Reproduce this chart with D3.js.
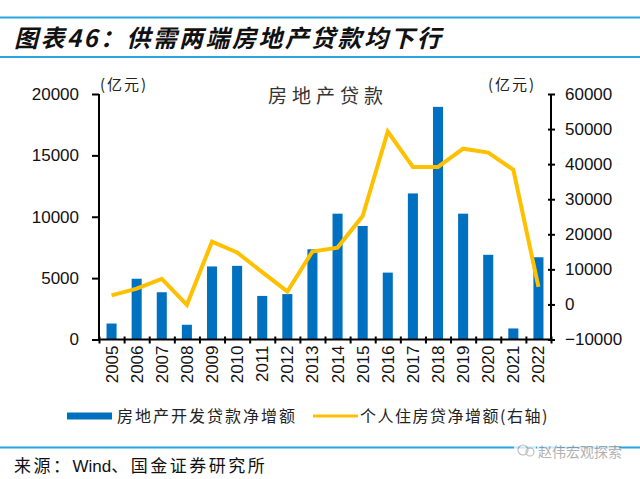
<!DOCTYPE html>
<html>
<head>
<meta charset="utf-8">
<script src="https://cdn.jsdelivr.net/npm/d3@7"></script>
<style>
html,body{margin:0;padding:0;background:#fff;}
svg{display:block;}
</style>
</head>
<body>
<script>
const years = ["2005","2006","2007","2008","2009","2010","2011","2012","2013","2014","2015","2016","2017","2018","2019","2020","2021","2022"];
const devLoans = [1300, 4950, 3850, 1200, 5950, 6000, 3550, 3700, 7350, 10250, 9250, 5450, 11900, 18950, 10250, 6900, 900, 6700];
const mortgage = [2600, 4500, 7300, -100, 17900, 14800, 9200, 3700, 15100, 16200, 25200, 49300, 39200, 39200, 44400, 43300, 38400, 5000];
const leftTicks = [0, 5000, 10000, 15000, 20000];
const rightTicks = [-10000, 0, 10000, 20000, 30000, 40000, 50000, 60000];
const seriesNames = ["房地产开发贷款净增额", "个人住房贷净增额(右轴)"];
const titleText = "图表46：供需两端房地产贷款均下行";
const chartLabel = "房地产贷款";
const unitText = "(亿元)";
const sourceParts = ["来源：", "Wind", "、国金证券研究所"];
const watermark = "赵伟宏观探索";

const W = 640, H = 479;
const cjk = "'Noto Sans CJK SC', 'Noto Sans', sans-serif";
const num = "'Liberation Sans', Arial, sans-serif";
const blue = "#0070C0", gold = "#FFC000", rule = "#29A5DF";

const svg = d3.select("body").append("svg").attr("width", W).attr("height", H);

// title rules
svg.append("line").attr("x1",0).attr("x2",W).attr("y1",17.5).attr("y2",17.5).attr("stroke",rule).attr("stroke-width",2);
svg.append("line").attr("x1",0).attr("x2",W).attr("y1",57).attr("y2",57).attr("stroke",rule).attr("stroke-width",2);
svg.append("text").attr("x",14).attr("y",47).attr("font-family",cjk).attr("font-size",24)
  .attr("font-style","italic").attr("font-weight","bold").attr("letter-spacing",2.4).attr("fill","#111").text(titleText);

const x0 = 99, x1 = 551, yTop = 94, yBot = 339.5;
const x = d3.scaleBand().domain(years).range([x0, x1]).paddingInner(0.6).paddingOuter(0.3);
const xEdge = d3.scaleLinear().domain([0, years.length]).range([x0, x1]);
const yL = d3.scaleLinear().domain([0, 20000]).range([yBot, yTop]);
const yR = d3.scaleLinear().domain([-10000, 60000]).range([yBot, yTop]);

// bars
svg.append("g").selectAll("rect").data(years).join("rect")
  .attr("x", d => x(d)).attr("width", x.bandwidth())
  .attr("y", (d,i) => yL(devLoans[i])).attr("height", (d,i) => yL(0) - yL(devLoans[i]))
  .attr("fill", blue);

// line
const line = d3.line().x((d,i) => x(years[i]) + x.bandwidth()/2).y(d => yR(d));
svg.append("path").datum(mortgage).attr("d", line).attr("fill","none")
  .attr("stroke", gold).attr("stroke-width", 4).attr("stroke-linejoin","miter");

// left axis
const gL = svg.append("g").attr("transform", `translate(${x0},0)`)
  .call(d3.axisLeft(yL).tickValues(leftTicks).tickSize(7).tickPadding(13).tickFormat(d3.format("d")));
gL.select(".domain").attr("stroke","#000").attr("stroke-width",2).attr("d", `M0,${yTop}V${yBot}`);
gL.selectAll(".tick line").attr("stroke","#000").attr("stroke-width",2);
gL.selectAll(".tick text").attr("font-family",num).attr("font-size",17).attr("fill","#111");

// right axis
const gR = svg.append("g").attr("transform", `translate(${x1},0)`)
  .call(d3.axisRight(yR).tickValues(rightTicks).tickSize(4).tickPadding(10).tickFormat(d3.format("d")));
gR.select(".domain").attr("stroke","#000").attr("stroke-width",2).attr("d", `M0,${yTop}V${yBot}`);
gR.selectAll(".tick line").attr("stroke","#000").attr("stroke-width",2).attr("x1",-3);
gR.selectAll(".tick text").attr("font-family",num).attr("font-size",17).attr("fill","#111");

// bottom axis: ticks at category boundaries
const gB = svg.append("g").attr("transform", `translate(0,${yBot})`)
  .call(d3.axisBottom(xEdge).tickValues(d3.range(0, years.length + 1)).tickSize(4).tickFormat(""));
gB.select(".domain").attr("stroke","#000").attr("stroke-width",2).attr("d", `M${x0},0H${x1}`);
gB.selectAll(".tick line").attr("stroke","#000").attr("stroke-width",2).attr("y1",-3);
const gLab = svg.append("g").attr("transform", `translate(0,${yBot})`)
  .call(d3.axisBottom(x).tickSize(0).tickPadding(0));
gLab.select(".domain").remove();
gLab.selectAll(".tick text").attr("font-family",num).attr("font-size",17).attr("fill","#111")
  .attr("transform","rotate(-90)").attr("text-anchor","end").attr("dy","0.35em").attr("x",-6).attr("y",0);

// units & chart label
svg.append("text").attr("x",100).attr("y",90).attr("font-family",cjk).attr("font-size",15).attr("letter-spacing",2).attr("fill","#222").text(unitText);
svg.append("text").attr("x",488).attr("y",90).attr("font-family",cjk).attr("font-size",15).attr("letter-spacing",2).attr("fill","#222").text(unitText);
svg.append("text").attr("x",328).attr("y",103).attr("text-anchor","middle").attr("font-family",cjk)
  .attr("font-size",19).attr("letter-spacing",5).attr("fill","#333").text(chartLabel);

// legend
const ly = 416;
svg.append("rect").attr("x",67).attr("y",ly-3.5).attr("width",45).attr("height",7).attr("fill",blue);
svg.append("text").attr("x",117).attr("y",ly+6).attr("font-family",cjk).attr("font-size",16).attr("letter-spacing",2).attr("fill","#222").text(seriesNames[0]);
svg.append("line").attr("x1",313).attr("x2",358).attr("y1",ly).attr("y2",ly).attr("stroke",gold).attr("stroke-width",3);
svg.append("text").attr("x",360).attr("y",ly+6).attr("font-family",cjk).attr("font-size",16).attr("letter-spacing",1.5).attr("fill","#222").text(seriesNames[1]);

// bottom rule & source
svg.append("line").attr("x1",0).attr("x2",W).attr("y1",447.5).attr("y2",447.5).attr("stroke",rule).attr("stroke-width",2);
const src = svg.append("text").attr("x",14).attr("y",472).attr("font-size",17).attr("fill","#111");
src.append("tspan").attr("font-family",cjk).attr("letter-spacing",2.5).text(sourceParts[0]);
src.append("tspan").attr("font-family",num).attr("letter-spacing",0).text(sourceParts[1]);
src.append("tspan").attr("font-family",cjk).attr("letter-spacing",2.5).text(sourceParts[2]);
// watermark
const wm = svg.append("g").attr("opacity",0.75);
wm.append("rect").attr("x",514).attr("y",441).attr("width",22).attr("height",16).attr("fill","#fff");
wm.append("circle").attr("cx",523).attr("cy",450).attr("r",5).attr("fill","none").attr("stroke","#aaa").attr("stroke-width",1.2);
wm.append("circle").attr("cx",530).attr("cy",452).attr("r",4).attr("fill","none").attr("stroke","#aaa").attr("stroke-width",1.2);
wm.append("rect").attr("x",537).attr("y",442).attr("width",82).attr("height",18).attr("fill","#fff");
wm.append("text").attr("x",538).attr("y",457).attr("font-family",cjk).attr("font-size",14).attr("fill","#999").text(watermark);
</script>
</body>
</html>
